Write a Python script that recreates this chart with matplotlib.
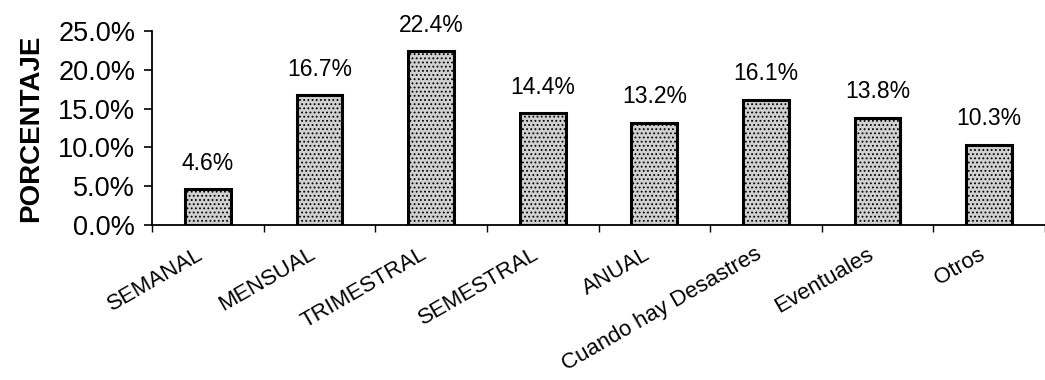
import numpy as np
import matplotlib.pyplot as plt
from matplotlib.ticker import FuncFormatter

plt.rcParams['font.family'] = ['Liberation Sans', 'DejaVu Sans']
plt.rcParams['hatch.color'] = '#555555'
plt.rcParams['hatch.linewidth'] = 0.8

categorias = ['SEMANAL', 'MENSUAL', 'TRIMESTRAL', 'SEMESTRAL', 'ANUAL',
              'Cuando hay Desastres', 'Eventuales', 'Otros']
porcentajes = [4.6, 16.7, 22.4, 14.4, 13.2, 16.1, 13.8, 10.3]

fig = plt.figure(figsize=(10.45, 3.8), dpi=100)
ax = fig.add_axes([152/1045, 155/380, (1045-152)/1045, 194/380])

x = np.arange(len(categorias))
ax.bar(x, porcentajes, width=0.41, color='#d0d0d0', edgecolor='black',
       linewidth=2.2, hatch='....')

for xi, v in zip(x, porcentajes):
    ax.annotate(f'{v:.1f}%', (xi, v), xytext=(0, 10.5), textcoords='offset points',
                ha='center', va='bottom', fontsize=16.5)

ax.set_xlim(-0.5, -0.5 + 893/113.5)
ax.set_ylim(0, 25)
ax.set_yticks(np.arange(0, 26, 5))
ax.yaxis.set_major_formatter(FuncFormatter(lambda v, p: f'{v:.1f}%'))
ax.tick_params(axis='y', labelsize=19.5, length=6, width=1.2, pad=6)

ax.set_xticks(np.arange(len(categorias) + 1) - 0.5, minor=False)
ax.set_xticklabels([])
ax.tick_params(axis='x', length=5, width=1)
for xi, lab in zip(x, categorias):
    ax.text(xi - 0.1, -2.4, lab, rotation=30, ha='right', va='top',
            rotation_mode='anchor', fontsize=16)

ax.set_ylabel('PORCENTAJE', fontsize=20, fontweight='bold', labelpad=10)
ax.spines['top'].set_visible(False)
ax.spines['right'].set_visible(False)
ax.spines['left'].set_linewidth(1.3)
ax.spines['bottom'].set_linewidth(1.3)

fig.savefig('out.png', dpi=100)
